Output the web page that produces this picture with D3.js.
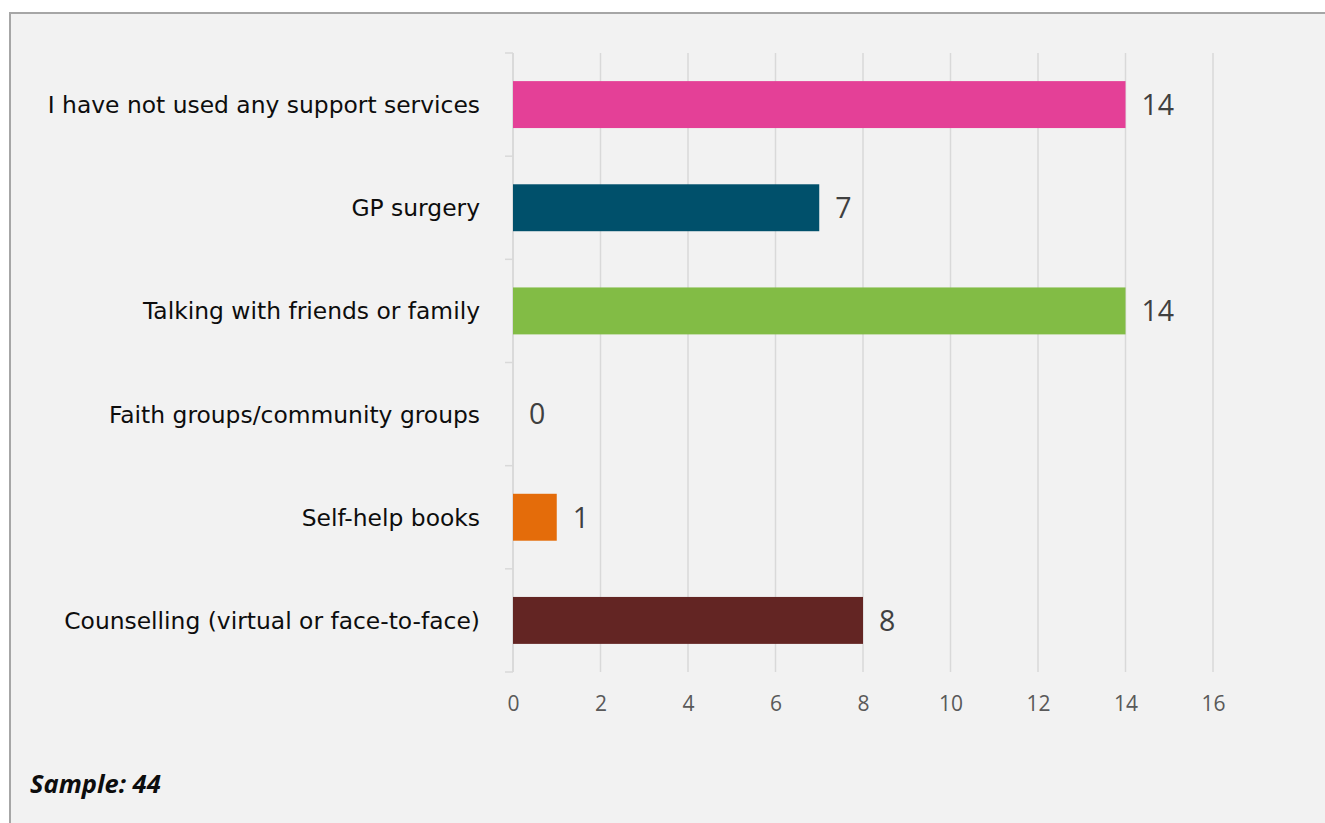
<!DOCTYPE html>
<html>
<head>
<meta charset="utf-8">
<script src="https://cdn.jsdelivr.net/npm/d3@7"></script>
<style>
  html, body { margin: 0; padding: 0; background: #ffffff; }
  svg { display: block; }
</style>
</head>
<body>
<svg id="chart" width="1325" height="823"></svg>
<script>
// Support services used (counts per response option)
const categories = [
  "I have not used any support services",
  "GP surgery",
  "Talking with friends or family",
  "Faith groups/community groups",
  "Self-help books",
  "Counselling (virtual or face-to-face)"
];
const values = [14, 7, 14, 0, 1, 8];
const barColors = ["#e44097", "#00506b", "#82bc45", "#7f7f7f", "#e46c0a", "#632523"];
const xTicks = [0, 2, 4, 6, 8, 10, 12, 14, 16];
const sampleNote = "Sample: 44";

const svg = d3.select("#chart");

// Panel background with grey frame
svg.append("rect")
  .attr("x", 10).attr("y", 13)
  .attr("width", 1340).attr("height", 840)
  .attr("fill", "#f2f2f2")
  .attr("stroke", "#a6a6a6")
  .attr("stroke-width", 2);

const plot = { left: 513, right: 1213, top: 53, bottom: 672 };

const x = d3.scaleLinear().domain([0, 16]).range([plot.left, plot.right]);
const y = d3.scaleBand().domain(categories)
  .range([plot.top, plot.bottom])
  .paddingInner(0.545).paddingOuter(0.2725);

// Vertical gridlines
svg.append("g")
  .selectAll("line")
  .data(xTicks)
  .join("line")
  .attr("x1", d => x(d)).attr("x2", d => x(d))
  .attr("y1", plot.top).attr("y2", plot.bottom)
  .attr("stroke", "#d9d9d9")
  .attr("stroke-width", 1.5);

// Category axis with outward ticks at band boundaries
const bounds = categories.map(c => y(c) - y.step() * y.paddingInner() / 2).concat([plot.bottom]);
const catAxis = svg.append("g");
catAxis.append("line")
  .attr("x1", plot.left).attr("x2", plot.left)
  .attr("y1", plot.top).attr("y2", plot.bottom)
  .attr("stroke", "#d9d9d9").attr("stroke-width", 1.5);
catAxis.selectAll("line.tick")
  .data(bounds)
  .join("line")
  .attr("class", "tick")
  .attr("x1", plot.left - 8).attr("x2", plot.left)
  .attr("y1", d => d).attr("y2", d => d)
  .attr("stroke", "#d9d9d9").attr("stroke-width", 1.5);

catAxis.selectAll("text")
  .data(categories)
  .join("text")
  .attr("x", 480)
  .attr("y", d => y(d) + y.bandwidth() / 2)
  .attr("dy", "0.36em")
  .attr("text-anchor", "end")
  .attr("font-family", "'DejaVu Sans', sans-serif")
  .attr("font-size", 23.4)
  .attr("fill", "#0d0d0d")
  .text(d => d);

// Bars
const rows = categories.map((c, i) => ({ cat: c, value: values[i], color: barColors[i] }));
svg.append("g")
  .selectAll("rect")
  .data(rows)
  .join("rect")
  .attr("x", x(0))
  .attr("y", d => y(d.cat))
  .attr("width", d => x(d.value) - x(0))
  .attr("height", y.bandwidth())
  .attr("fill", d => d.color);

// Value labels
svg.append("g")
  .selectAll("text")
  .data(rows)
  .join("text")
  .attr("x", d => x(d.value) + 16)
  .attr("y", d => y(d.cat) + y.bandwidth() / 2)
  .attr("dy", "0.36em")
  .attr("font-family", "'Open Sans', sans-serif")
  .attr("font-size", 28.5)
  .attr("fill", "#404040")
  .text(d => d.value);

// Value axis tick labels
const xAxis = d3.axisBottom(x).tickValues(xTicks).tickSize(0).tickPadding(0);
const xg = svg.append("g")
  .attr("transform", `translate(0, ${plot.bottom})`)
  .call(xAxis);
xg.select(".domain").remove();
xg.selectAll("text")
  .attr("y", 39)
  .attr("dy", 0)
  .attr("font-family", "'Open Sans', sans-serif")
  .attr("font-size", 21)
  .attr("fill", "#595959");

// Sample size note
svg.append("text")
  .attr("x", 30).attr("y", 793)
  .attr("font-family", "'Open Sans', sans-serif")
  .attr("font-size", 25.5)
  .attr("font-weight", "bold")
  .attr("font-style", "italic")
  .attr("fill", "#0d0d0d")
  .text(sampleNote);
</script>
</body>
</html>
